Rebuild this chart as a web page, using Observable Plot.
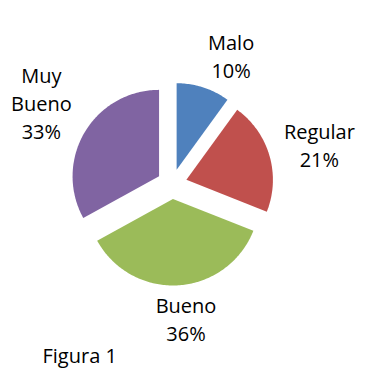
<!DOCTYPE html>
<html><head><meta charset="utf-8">
<script src="https://cdn.jsdelivr.net/npm/d3@7"></script>
<script src="https://cdn.jsdelivr.net/npm/@observablehq/plot@0.6"></script>
<style>body{margin:0;background:#fff}</style>
</head><body><div id="chart"></div>
<script>
// ---- data ----
const categories = ["Malo", "Regular", "Bueno", "Muy Bueno"];
const percents = [10, 21, 36, 33];
const labelNames = ["Malo", "Regular", "Bueno", "Muy\nBueno"];
const caption = "Figura 1";
const colors = ["#4F81BD", "#C0504D", "#9BBB59", "#8064A2"];

// ---- layout ----
const W = 369, H = 381;
const R = 86.5;               // pie radius in px
const cx = 171.5, cy = 183.5; // pie centre in px
const explode = 15 / R;       // explosion in radius units
const fontSize = 20, lineH = 1.4;
const FONT = "'Open Sans', sans-serif";

// angles from data
const total = d3.sum(percents);
let acc = 0;
const slices = categories.map((c, i) => {
  const a0 = acc / total * 2 * Math.PI;
  acc += percents[i];
  const a1 = acc / total * 2 * Math.PI;
  return {cat: c, a0, a1, mid: (a0 + a1) / 2, pct: percents[i], name: labelNames[i]};
});

// slice polygons (y grows downward), radius 1
const pts = [];
for (const s of slices) {
  const ox = explode * Math.sin(s.mid), oy = -explode * Math.cos(s.mid);
  pts.push({cat: s.cat, x: ox, y: oy});
  const n = Math.max(2, Math.ceil((s.a1 - s.a0) / (Math.PI / 180)));
  for (let k = 0; k <= n; k++) {
    const a = s.a0 + (s.a1 - s.a0) * k / n;
    pts.push({cat: s.cat, x: ox + Math.sin(a), y: oy - Math.cos(a)});
  }
}

// label placement (outside end)
const ctx = document.createElement("canvas").getContext("2d");
ctx.font = `${fontSize}px ${FONT}`;
const gx = 15, gy = 5, kx = 3.5, ky = 1.3;
const clamp = v => Math.max(-1, Math.min(1, v));
const labels = slices.map(s => {
  const text = `${s.name}\n${s.pct}%`;
  const lines = text.split("\n");
  const w = d3.max(lines, l => ctx.measureText(l).width);
  const h = lines.length * fontSize * lineH;
  const ux = Math.sin(s.mid), uy = -Math.cos(s.mid);
  const d = R * (1 + explode);
  const px = ux * (d + gx) + w / 2 * clamp(kx * ux);
  const py = uy * (d + gy) + h / 2 * clamp(ky * uy);
  return {text, x: px / R, y: py / R};
});

const chart = Plot.plot({
  width: W, height: H,
  margin: 0,
  style: {fontFamily: FONT, background: "#fff"},
  x: {domain: [-cx / R, (W - cx) / R], range: [0, W], axis: null},
  y: {domain: [-cy / R, (H - cy) / R], range: [0, H], axis: null},
  color: {domain: categories, range: colors},
  marks: [
    Plot.line(pts, {x: "x", y: "y", z: "cat", fill: "cat", stroke: "none", curve: "linear-closed"}),
    Plot.text(labels, {x: "x", y: "y", text: "text", fontSize, lineHeight: lineH, lineAnchor: "middle", fill: "#000"}),
    Plot.text([caption], {frameAnchor: "bottom-left", dx: 42, dy: -25, textAnchor: "start", lineAnchor: "middle", fontSize, fill: "#000"})
  ]
});
document.getElementById("chart").appendChild(chart);
</script>
</body></html>
